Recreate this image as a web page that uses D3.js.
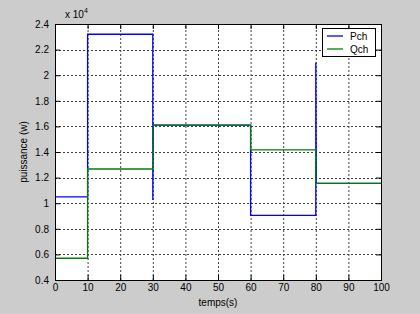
<!DOCTYPE html>
<html>
<head>
<meta charset="utf-8">
<script src="https://cdn.jsdelivr.net/npm/d3@7"></script>
<style>
body { margin:0; background:#cccccc; }
text { font-family: "Liberation Sans", Arial, sans-serif; }
</style>
</head>
<body>
<div id="chart"></div>
<script>
// time (s) and power values (x 10^4)
var tPch = [0, 10, 10, 30, 30, 30.15, 60, 60, 80, 80, 80.15, 100]
var pch  = [1.05, 1.05, 2.32, 2.32, 1.025, 1.61, 1.61, 0.905, 0.905, 2.10, 1.155, 1.155]
var tQch = [0, 10, 10, 30, 30, 30.15, 60, 60, 80, 80, 100]
var qch  = [0.57, 0.57, 1.267, 1.267, 1.42, 1.61, 1.61, 1.416, 1.416, 1.155, 1.155]
var seriesNames = ['Pch', 'Qch']
var colors = ['#0000ff', '#008000']
var xTicks = [0,10,20,30,40,50,60,70,80,90,100]
var yTicks = [0.4,0.6,0.8,1,1.2,1.4,1.6,1.8,2,2.2,2.4]

var W = 420, H = 314
var m = {l:55, t:24, r:39, b:34}
var svg = d3.select('#chart').append('svg')
	.attr('width', W).attr('height', H)
svg.append('rect').attr('width', W).attr('height', H).attr('fill', '#cccccc')

var x = d3.scaleLinear().domain([0,100]).range([m.l, W-m.r])
var y = d3.scaleLinear().domain([0.4,2.4]).range([H-m.b, m.t])

svg.append('rect')
	.attr('x', x(0)).attr('y', y(2.4))
	.attr('width', x(100)-x(0)).attr('height', y(0.4)-y(2.4))
	.attr('fill', 'white')

// grid
var grid = svg.append('g').attr('stroke', '#000').attr('stroke-width', 1)
	.attr('stroke-dasharray', '2,2').attr('opacity', 0.75)
xTicks.slice(1,-1).forEach(function(v){
	grid.append('line').attr('x1', x(v)+0.5).attr('x2', x(v)+0.5)
		.attr('y1', y(0.4)).attr('y2', y(2.4))
})
yTicks.slice(1,-1).forEach(function(v){
	grid.append('line').attr('y1', Math.round(y(v))+0.5).attr('y2', Math.round(y(v))+0.5)
		.attr('x1', x(0)).attr('x2', x(100))
})

// lines
var line = d3.line().x(function(d){return x(d[0])}).y(function(d){return y(d[1])})
var dataP = tPch.map(function(t,i){return [t, pch[i]]})
var dataQ = tQch.map(function(t,i){return [t, qch[i]]})
svg.append('path').datum(dataP).attr('d', line)
	.attr('fill','none').attr('stroke', colors[0]).attr('stroke-width', 1.3)
svg.append('path').datum(dataQ).attr('d', line)
	.attr('fill','none').attr('stroke', colors[1]).attr('stroke-width', 1.3)

// axes (matlab style ticks inside)
var xAxis = d3.axisBottom(x).tickValues(xTicks).tickSize(-5).tickPadding(4)
var yAxis = d3.axisLeft(y).tickValues(yTicks).tickSize(-5).tickPadding(6)
	.tickFormat(function(d){return d3.format('~g')(d)})
var gx = svg.append('g').attr('transform','translate(0,'+y(0.4)+')').call(xAxis)
var gy = svg.append('g').attr('transform','translate('+x(0)+',0)').call(yAxis)
svg.append('g').attr('transform','translate(0,'+y(2.4)+')')
	.call(d3.axisTop(x).tickValues(xTicks).tickSize(-5).tickFormat(''))
svg.append('g').attr('transform','translate('+x(100)+',0)')
	.call(d3.axisRight(y).tickValues(yTicks).tickSize(-5).tickFormat(''))
svg.selectAll('.domain').attr('stroke','#000')
svg.selectAll('.tick text').attr('font-size', 10).attr('fill', '#000')
	.style('font-family', '"Liberation Sans", Arial, sans-serif')
svg.append('rect')
	.attr('x', x(0)+0.5).attr('y', y(2.4)+0.5)
	.attr('width', x(100)-x(0)).attr('height', y(0.4)-y(2.4))
	.attr('fill', 'none').attr('stroke', '#000')

// labels
var ex = svg.append('text').attr('x', x(0)+10).attr('y', y(2.4)-6).attr('font-size', 10)
ex.append('tspan').text('x 10')
ex.append('tspan').attr('dy', -5).attr('font-size', 7).text('4')
svg.append('text').attr('x', (x(0)+x(100))/2).attr('y', H-8)
	.attr('text-anchor','middle').attr('font-size', 10).text('temps(s)')
svg.append('text').attr('transform','translate(27,'+(y(1.4))+') rotate(-90)')
	.attr('text-anchor','middle').attr('font-size', 10).text('puissance (w)')

// legend
var lg = svg.append('g')
lg.append('rect').attr('x', 322.5).attr('y', 28.5).attr('width', 53).attr('height', 28)
	.attr('fill', 'white').attr('stroke', '#000')
seriesNames.forEach(function(n,i){
	var yy = 36 + i*13
	lg.append('line').attr('x1', 327).attr('x2', 343).attr('y1', yy).attr('y2', yy)
		.attr('stroke', colors[i]).attr('stroke-width', 1.3)
	lg.append('text').attr('x', 350).attr('y', yy+4).attr('font-size', 10).text(n)
})
</script>
</body>
</html>
